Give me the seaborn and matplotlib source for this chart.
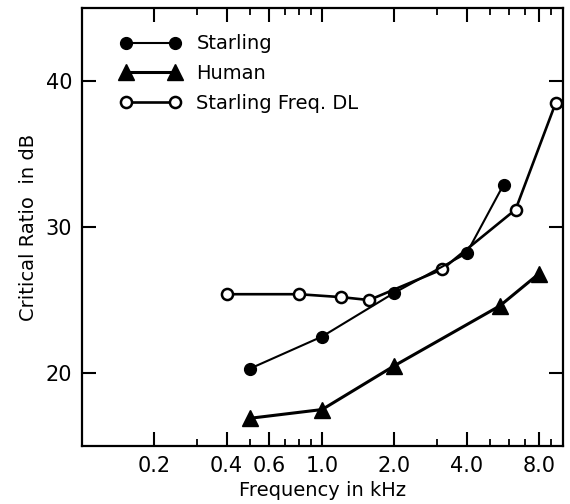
import matplotlib
matplotlib.use('Agg')
import matplotlib.pyplot as plt
from matplotlib.ticker import NullFormatter, NullLocator
import seaborn as sns
import pandas as pd

# values
starling_freq = [0.5, 1.0, 2.0, 4.0, 5.7]
starling_cr = [20.3, 22.5, 25.5, 28.2, 32.9]

human_freq = [0.5, 1.0, 2.0, 5.5, 8.0]
human_cr = [16.9, 17.5, 20.5, 24.6, 26.8]

dl_freq = [0.4, 0.8, 1.2, 1.57, 3.16, 6.4, 9.4]
dl_cr = [25.4, 25.4, 25.2, 25.0, 27.1, 31.2, 38.5]

major_ticks = [0.2, 0.4, 0.6, 1.0, 2.0, 4.0, 8.0]
major_labels = ['0.2', '0.4', '0.6', '1.0', '2.0', '4.0', '8.0']
minor_ticks = [0.3, 0.5, 0.7, 0.8, 0.9, 3.0, 5.0, 6.0, 7.0, 9.0]
y_ticks = [20, 30, 40]

sns.set_style('ticks')
plt.rcParams['font.family'] = ['DejaVu Sans']
plt.rcParams['text.color'] = 'black'
plt.rcParams['axes.labelcolor'] = 'black'
plt.rcParams['xtick.color'] = 'black'
plt.rcParams['ytick.color'] = 'black'
plt.rcParams['xtick.direction'] = 'in'
plt.rcParams['ytick.direction'] = 'in'

starling = pd.DataFrame({'freq': starling_freq, 'cr': starling_cr})
human = pd.DataFrame({'freq': human_freq, 'cr': human_cr})
dl = pd.DataFrame({'freq': dl_freq, 'cr': dl_cr})

fig = plt.figure(figsize=(5.7, 5.04), dpi=100)
ax = fig.add_axes([0.144, 0.115, 0.844, 0.869])
ax.set_xscale('log')

sns.lineplot(data=dl, x='freq', y='cr', ax=ax, color='black', lw=1.9,
             marker='o', markersize=8, markerfacecolor='white',
             markeredgecolor='black', markeredgewidth=1.8,
             label='Starling Freq. DL', sort=False)
sns.lineplot(data=starling, x='freq', y='cr', ax=ax, color='black', lw=1.5,
             marker='o', markersize=8.5, markerfacecolor='black',
             markeredgecolor='black', markeredgewidth=1,
             label='Starling', sort=False)
sns.lineplot(data=human, x='freq', y='cr', ax=ax, color='black', lw=2.2,
             marker='^', markersize=11, markerfacecolor='black',
             markeredgecolor='black', markeredgewidth=1,
             label='Human', sort=False)

ax.set_xlim(0.1, 10.1)
ax.set_ylim(15, 45)

ax.set_xticks(major_ticks, major_labels)
ax.set_xticks(minor_ticks, minor=True)
ax.xaxis.set_minor_formatter(NullFormatter())
ax.set_yticks(y_ticks)
ax.yaxis.set_minor_locator(NullLocator())

ax.tick_params(axis='both', which='major', direction='in', length=10,
               width=1.5, top=True, right=True, labelsize=15, pad=7)
ax.tick_params(axis='x', which='minor', direction='in', length=5,
               width=1.3, top=True, bottom=True)

for s in ax.spines.values():
    s.set_linewidth(1.6)
    s.set_color('black')

ax.set_xlabel('Frequency in kHz', fontsize=14, labelpad=4)
ax.set_ylabel('Critical Ratio  in dB', fontsize=14, labelpad=6)

h, l = ax.get_legend_handles_labels()
order = [l.index('Starling'), l.index('Human'), l.index('Starling Freq. DL')]
ax.legend([h[i] for i in order], [l[i] for i in order], loc='upper left',
          bbox_to_anchor=(0.08, 0.94), frameon=False, numpoints=2,
          handlelength=3.1, handletextpad=0.8, labelspacing=0.55,
          fontsize=14, borderpad=0, borderaxespad=0)

fig.savefig('out.png', dpi=100)
